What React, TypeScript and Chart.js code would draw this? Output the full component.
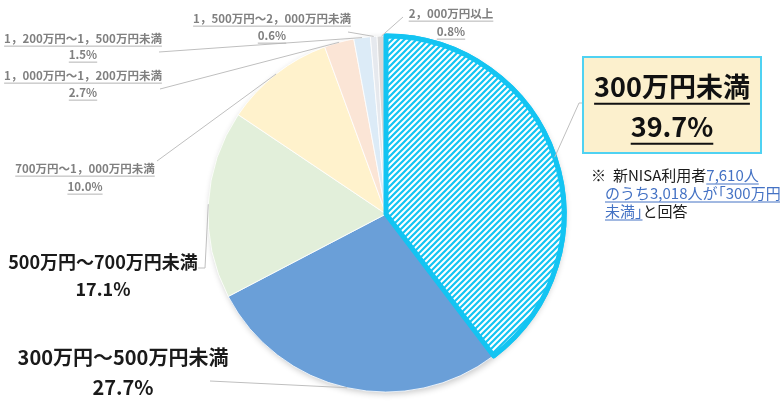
import { useEffect, useRef } from "react"
import { Chart, registerables } from "chart.js"

Chart.register(...registerables)

// 年収区分（時計回り、12時から）
const categories = [
  "300万円未満",
  "300万円～500万円未満",
  "500万円～700万円未満",
  "700万円～1，000万円未満",
  "1，000万円～1，200万円未満",
  "1，200万円～1，500万円未満",
  "1，500万円～2，000万円未満",
  "2，000万円以上",
]

// 構成比 (%)
const shares = [39.7, 27.7, 17.1, 10.0, 2.7, 1.5, 0.6, 0.8]

const sliceColors = ["#ffffff", "#6a9fd8", "#e2efda", "#fff2cc", "#fbe5d6", "#dcebf7", "#e6e9ee", "#d9d9d9"]

const HIGHLIGHT = "#13c4f2"
const JP_FONT = '"Noto Sans CJK JP", "Noto Sans", sans-serif'

// 注記
const noteTotal = "7,610"
const noteCount = "3,018"

interface LabelLayout {
  x: number
  y: number
  gap: number
  size: number
  bold: boolean
  color: string
  underline: boolean
  line: number[][]
}

// index 0 は枠付きラベル
const labelLayout: (LabelLayout | null)[] = [
  null,
  { x: 123, y: 357, gap: 30, size: 20, bold: true, color: "#1a1a1a", underline: false, line: [[210, 381]] },
  { x: 103, y: 262, gap: 27, size: 18, bold: true, color: "#1a1a1a", underline: false, line: [[198, 268], [205, 268]] },
  { x: 85, y: 169, gap: 18, size: 11.5, bold: true, color: "#808080", underline: true, line: [[157, 161]] },
  { x: 83, y: 76, gap: 17, size: 11.5, bold: true, color: "#808080", underline: true, line: [[160, 89]] },
  { x: 83, y: 39, gap: 16, size: 11.5, bold: true, color: "#808080", underline: true, line: [[159, 52]] },
  { x: 272, y: 19, gap: 17, size: 11.5, bold: true, color: "#808080", underline: true, line: [[348, 32]] },
  { x: 451, y: 14, gap: 18, size: 11.5, bold: true, color: "#808080", underline: true, line: [[403, 17]] },
]

function makeHatch(ctx: CanvasRenderingContext2D) {
  const tile = document.createElement("canvas")
  tile.width = 6
  tile.height = 6
  const t = tile.getContext("2d")!
  t.fillStyle = "#ffffff"
  t.fillRect(0, 0, 6, 6)
  t.strokeStyle = HIGHLIGHT
  t.lineWidth = 2.2
  t.beginPath()
  t.moveTo(0, 6)
  t.lineTo(6, 0)
  t.moveTo(-1, 1)
  t.lineTo(1, -1)
  t.moveTo(5, 7)
  t.lineTo(7, 5)
  t.stroke()
  return ctx.createPattern(tile, "repeat")
}

function drawLabelText(
  ctx: CanvasRenderingContext2D,
  text: string,
  x: number,
  y: number,
  size: number,
  bold: boolean,
  color: string,
  underline: boolean,
  underlineColor: string,
  underlineWidth: number
) {
  ctx.font = `${bold ? "bold " : ""}${size}px ${JP_FONT}`
  ctx.fillStyle = color
  ctx.textAlign = "center"
  ctx.textBaseline = "middle"
  ctx.fillText(text, x, y)
  if (underline) {
    const w = ctx.measureText(text).width
    ctx.strokeStyle = underlineColor
    ctx.lineWidth = underlineWidth
    ctx.beginPath()
    ctx.moveTo(x - w / 2, y + size * 0.62)
    ctx.lineTo(x + w / 2, y + size * 0.62)
    ctx.stroke()
  }
}

export default function App() {
  const chartRef = useRef<HTMLCanvasElement | null>(null)
  const chartInstance = useRef<Chart | null>(null)

  useEffect(() => {
    if (!chartRef.current) return
    if (chartInstance.current) chartInstance.current.destroy()

    const ctx = chartRef.current.getContext("2d")
    if (!ctx) return

    const hatch = makeHatch(ctx)
    const bg = sliceColors.map((c, i) => (i === 0 ? hatch : c))

    const shadowPlugin = {
      id: "pieShadow",
      beforeDatasetsDraw(chart: Chart) {
        const arc: any = chart.getDatasetMeta(0).data[0]
        if (!arc) return
        const c = chart.ctx
        c.save()
        c.shadowColor = "rgba(0,0,0,0.22)"
        c.shadowBlur = 6
        c.shadowOffsetX = 1.5
        c.shadowOffsetY = 2
        c.fillStyle = "#ffffff"
        c.beginPath()
        c.arc(arc.x, arc.y, arc.outerRadius, 0, Math.PI * 2)
        c.fill()
        c.restore()
      },
      afterDatasetsDraw(chart: Chart) {
        // 強調スライスの枠を最前面に
        const arc: any = chart.getDatasetMeta(0).data[0]
        if (arc) arc.draw(chart.ctx)
      },
    }

    const labelPlugin = {
      id: "sliceLabels",
      afterDraw(chart: Chart) {
        const c = chart.ctx
        const arcs: any[] = chart.getDatasetMeta(0).data as any[]
        c.save()

        const edgePoint = (i: number) => {
          const a = arcs[i]
          const mid = (a.startAngle + a.endAngle) / 2
          return [a.x + a.outerRadius * Math.cos(mid), a.y + a.outerRadius * Math.sin(mid)]
        }

        // leader lines
        c.strokeStyle = "#bfbfbf"
        c.lineWidth = 1
        labelLayout.forEach((l, i) => {
          if (!l) return
          const p = edgePoint(i)
          c.beginPath()
          c.moveTo(l.line[0][0], l.line[0][1])
          for (let k = 1; k < l.line.length; k++) c.lineTo(l.line[k][0], l.line[k][1])
          c.lineTo(p[0], p[1])
          c.stroke()
        })

        // labels
        labelLayout.forEach((l, i) => {
          if (!l) return
          const pct = shares[i].toFixed(1) + "%"
          drawLabelText(c, categories[i], l.x, l.y, l.size, l.bold, l.color, l.underline, "#b3b3b3", 1)
          drawLabelText(c, pct, l.x, l.y + l.gap, l.size, l.bold, l.color, l.underline, "#b3b3b3", 1)
        })

        // highlighted box
        const bx = 583, by = 57, bw = 178, bh = 96
        const p0 = edgePoint(0)
        c.strokeStyle = "#bfbfbf"
        c.lineWidth = 1
        c.beginPath()
        c.moveTo(bx, by + 46)
        c.lineTo(bx - 4, by + 46)
        c.lineTo(p0[0], p0[1])
        c.stroke()

        c.fillStyle = "#fcf0cd"
        c.fillRect(bx, by, bw, bh)
        c.strokeStyle = "#4fd2f2"
        c.lineWidth = 2
        c.strokeRect(bx, by, bw, bh)
        drawLabelText(c, categories[0], bx + bw / 2, by + 30, 27, true, "#111111", true, "#111111", 2)
        drawLabelText(c, shares[0].toFixed(1) + "%", bx + bw / 2, by + 70, 27, true, "#111111", true, "#111111", 2)

        // note
        const blue = "#4472c4"
        const size = 15
        const seg = (text: string, x0: number, y: number, color: string, ul: boolean) => {
          c.font = `${size}px ${JP_FONT}`
          c.fillStyle = color
          c.textAlign = "left"
          c.textBaseline = "middle"
          let x = x0
          for (const ch of text) {
            if (ch === "「") {
              c.fillText(ch, x - size * 0.45, y)
              x += size * 0.55
            } else if (ch === "」") {
              c.fillText(ch, x, y)
              x += size * 0.5
            } else {
              c.fillText(ch, x, y)
              x += c.measureText(ch).width
            }
          }
          if (ul) {
            c.strokeStyle = color
            c.lineWidth = 1
            c.beginPath()
            c.moveTo(x0, y + 9)
            c.lineTo(x, y + 9)
            c.stroke()
          }
          return x
        }
        seg("※", 591, 175, "#1a1a1a", false)
        let x = seg("新NISA利用者", 613, 175, "#1a1a1a", false)
        seg(noteTotal + "人", x, 175, blue, true)
        seg("のうち" + noteCount + "人が「300万円", 605, 193, blue, true)
        x = seg("未満」", 605, 211, blue, true)
        seg("と回答", x, 211, "#1a1a1a", false)

        c.restore()
      },
    }

    chartInstance.current = new Chart(ctx, {
      type: "pie",
      data: {
        labels: categories,
        datasets: [
          {
            data: shares,
            backgroundColor: bg as any,
            borderColor: sliceColors.map((_, i) => (i === 0 ? HIGHLIGHT : "#ffffff")),
            borderWidth: sliceColors.map((_, i) => (i === 0 ? 5 : 0.8)),
            borderJoinStyle: "round" as any,
          },
        ],
      },
      options: {
        responsive: true,
        maintainAspectRatio: false,
        animation: false,
        events: [],
        radius: 178,
        rotation: 0,
        layout: { padding: { left: 0, right: 8, top: 22, bottom: 0 } },
        plugins: {
          legend: { display: false },
          tooltip: { enabled: false },
        },
      } as any,
      plugins: [shadowPlugin, labelPlugin],
    })

    return () => {
      if (chartInstance.current) {
        chartInstance.current.destroy()
        chartInstance.current = null
      }
    }
  }, [])

  return (
    <div style={{ position: "fixed", left: 0, top: 0, width: 780, height: 406, background: "#ffffff" }}>
      <canvas ref={chartRef} />
    </div>
  )
}
